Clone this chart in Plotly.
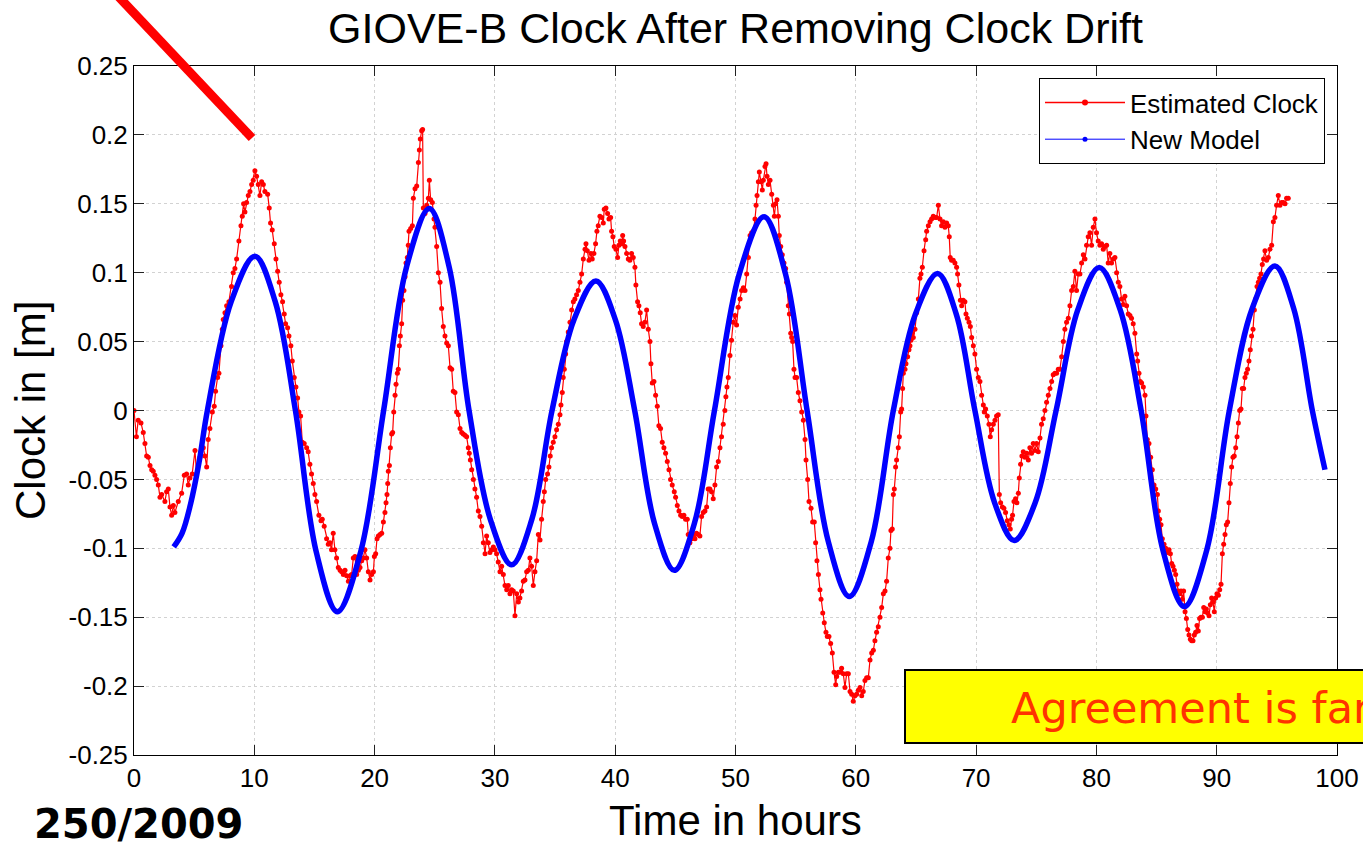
import plotly.graph_objects as go

# ---------------- data ----------------
title_text = "GIOVE-B Clock After Removing Clock Drift"
x_title = "Time in hours"
y_title = "Clock in [m]"
legend_names = ["Estimated Clock", "New Model"]

x_tickvals = [0, 10, 20, 30, 40, 50, 60, 70, 80, 90, 100]
x_ticktext = ["0", "10", "20", "30", "40", "50", "60", "70", "80", "90", "100"]
y_tickvals = [0.25, 0.2, 0.15, 0.1, 0.05, 0, -0.05, -0.1, -0.15, -0.2, -0.25]
y_ticktext = ["0.25", "0.2", "0.15", "0.1", "0.05", "0", "-0.05", "-0.1", "-0.15", "-0.2", "-0.25"]

# Estimated clock (hours, metres)
red_seg1 = [(0.00,0.000),(0.20,-0.019),(0.35,-0.007),(0.58,-0.009),(0.77,-0.016),(0.91,-0.024),(1.05,-0.033),(1.19,-0.034),(1.33,-0.040),(1.47,-0.043),(1.60,-0.044),(1.74,-0.047),(1.88,-0.050),(2.02,-0.054),(2.16,-0.063),(2.30,-0.061),(2.57,-0.066),(2.71,-0.059),(2.85,-0.057),(2.99,-0.070),(3.13,-0.076),(3.27,-0.069),(3.40,-0.074),(3.68,-0.066),(3.96,-0.060),(4.18,-0.047),(4.37,-0.046),(4.51,-0.054),(4.65,-0.049),(4.84,-0.046),(5.07,-0.029),(5.20,-0.046),(5.48,-0.034),(5.76,-0.027),(5.90,-0.033),(6.04,-0.041),(6.17,-0.021),(6.31,-0.013),(6.51,-0.001),(6.67,0.003),(6.78,0.014),(6.95,0.024),(7.06,0.027),(7.23,0.047),(7.34,0.059),(7.42,0.066),(7.56,0.071),(7.70,0.076),(7.89,0.079),(8.11,0.090),(8.25,0.100),(8.39,0.103),(8.53,0.110),(8.72,0.123),(8.89,0.134),(9.00,0.141),(9.11,0.150),(9.22,0.144),(9.36,0.151),(9.50,0.156),(9.64,0.159),(9.78,0.164),(9.91,0.167),(10.05,0.174),(10.19,0.170),(10.33,0.164),(10.47,0.156),(10.61,0.166),(10.75,0.164),(10.88,0.159),(11.11,0.157),(11.24,0.147),(11.35,0.136),(11.49,0.131),(11.66,0.121),(11.80,0.110),(11.94,0.101),(12.07,0.093),(12.21,0.084),(12.35,0.079),(12.49,0.070),(12.60,0.063),(12.77,0.060),(12.88,0.054),(13.04,0.047),(13.16,0.036),(13.32,0.024),(13.46,0.017),(13.60,0.009),(13.71,-0.001),(13.85,-0.004),(13.99,-0.023),(14.15,-0.024),(14.35,-0.027),(14.48,-0.030),(14.62,-0.039),(14.76,-0.046),(14.90,-0.053),(15.04,-0.061),(15.18,-0.066),(15.37,-0.076),(15.54,-0.080),(15.65,-0.079),(15.81,-0.084),(16.01,-0.093),(16.15,-0.097),(16.29,-0.096),(16.42,-0.101),(16.56,-0.089),(16.70,-0.101),(16.84,-0.107),(16.98,-0.114)]
red_seg2 = [(17.13,-0.116),(17.26,-0.117),(17.40,-0.119),(17.54,-0.116),(17.68,-0.120),(17.82,-0.124),(17.96,-0.120),(18.09,-0.119),(18.23,-0.107),(18.37,-0.106),(18.51,-0.119),(18.65,-0.116),(18.79,-0.114),(18.93,-0.109),(19.06,-0.107),(19.20,-0.101),(19.34,-0.107),(19.48,-0.117),(19.62,-0.123),(19.76,-0.119),(19.90,-0.117),(19.98,-0.106),(20.09,-0.104),(20.20,-0.093),(20.31,-0.091),(20.45,-0.090),(20.59,-0.089),(20.73,-0.081),(20.86,-0.074),(20.95,-0.067),(21.03,-0.061),(21.09,-0.053),(21.14,-0.044),(21.23,-0.040),(21.31,-0.027),(21.42,-0.017),(21.50,-0.016),(21.59,-0.001),(21.70,0.011),(21.78,0.019),(21.89,0.027),(21.97,0.030),(22.06,0.047),(22.14,0.054),(22.25,0.063),(22.33,0.080),(22.44,0.087),(22.53,0.097),(22.61,0.107),(22.72,0.111),(22.80,0.120),(22.86,0.130),(23.00,0.132),(23.14,0.134),(23.22,0.154),(23.36,0.161),(23.50,0.163),(23.64,0.180),(23.72,0.189),(23.80,0.197),(23.91,0.203),(23.99,0.204),(24.05,0.147),(24.19,0.143),(24.33,0.149),(24.47,0.154),(24.55,0.167),(24.66,0.153),(24.80,0.151),(24.94,0.139),(25.02,0.133),(25.16,0.119),(25.30,0.100),(25.44,0.093),(25.57,0.074),(25.71,0.061),(25.85,0.054),(25.99,0.049),(26.13,0.047),(26.27,0.031),(26.41,0.030),(26.54,0.014),(26.68,0.013),(26.82,-0.001),(26.96,-0.003),(27.10,-0.013),(27.24,-0.016),(27.37,-0.017),(27.51,-0.018),(27.65,-0.019),(27.79,-0.027),(27.87,-0.031),(27.96,-0.036),(28.07,-0.043),(28.21,-0.050),(28.34,-0.057),(28.48,-0.063),(28.62,-0.073),(28.76,-0.077),(28.90,-0.084),(29.04,-0.096),(29.18,-0.104),(29.31,-0.091),(29.45,-0.096),(29.59,-0.103),(29.73,-0.101),(29.87,-0.099),(30.01,-0.101),(30.14,-0.104),(30.28,-0.110),(30.42,-0.117),(30.56,-0.113),(30.70,-0.119),(30.84,-0.127),(30.98,-0.130),(31.11,-0.127),(31.25,-0.133),(31.39,-0.130),(31.53,-0.131),(31.67,-0.149),(31.81,-0.133),(31.95,-0.139),(32.08,-0.136),(32.22,-0.131),(32.36,-0.124),(32.50,-0.123),(32.64,-0.117),(32.78,-0.116),(32.91,-0.107),(33.05,-0.113),(33.19,-0.127),(33.33,-0.117),(33.47,-0.109),(33.61,-0.090)]
red_seg3 = [(33.75,-0.094),(33.88,-0.079),(34.02,-0.066),(34.11,-0.059),(34.22,-0.050),(34.38,-0.046),(34.49,-0.041),(34.60,-0.033),(34.71,-0.027),(34.85,-0.023),(34.99,-0.019),(35.13,-0.014),(35.27,-0.010),(35.41,-0.003),(35.49,0.004),(35.60,0.013),(35.68,0.024),(35.77,0.030),(35.88,0.041),(35.96,0.050),(36.10,0.057),(36.24,0.064),(36.38,0.073),(36.52,0.079),(36.65,0.081),(36.79,0.084),(36.93,0.087),(37.07,0.093),(37.21,0.099),(37.35,0.110),(37.49,0.117),(37.57,0.121),(37.68,0.116),(37.82,0.109),(37.98,0.114),(38.09,0.110),(38.23,0.114),(38.37,0.121),(38.48,0.130),(38.59,0.134),(38.73,0.141),(38.87,0.140),(39.01,0.136),(39.09,0.146),(39.23,0.147),(39.37,0.143),(39.48,0.139),(39.62,0.140),(39.70,0.130),(39.81,0.126),(39.92,0.119),(40.06,0.117),(40.20,0.111),(40.31,0.120),(40.42,0.123),(40.53,0.121),(40.62,0.127),(40.70,0.123),(40.81,0.119),(40.95,0.114),(41.09,0.110),(41.22,0.109),(41.36,0.114),(41.50,0.111),(41.64,0.104),(41.72,0.091),(41.86,0.079),(41.97,0.076),(42.08,0.071),(42.19,0.063),(42.33,0.061),(42.47,0.064),(42.61,0.073),(42.75,0.059),(42.89,0.050),(42.97,0.034),(43.08,0.020),(43.22,0.021),(43.36,0.011),(43.50,0.003),(43.63,-0.011),(43.77,-0.013),(43.91,-0.023),(44.05,-0.027),(44.19,-0.031),(44.33,-0.037),(44.47,-0.043),(44.60,-0.050),(44.74,-0.054),(44.91,-0.059),(45.02,-0.063),(45.16,-0.069),(45.30,-0.073),(45.44,-0.076),(45.57,-0.077),(45.71,-0.076),(45.85,-0.079),(45.99,-0.079),(46.07,-0.090),(46.21,-0.096),(46.35,-0.093),(46.49,-0.090),(46.63,-0.093),(46.76,-0.089),(46.90,-0.090),(47.04,-0.091),(47.18,-0.077),(47.32,-0.074),(47.46,-0.073),(47.60,-0.070),(47.73,-0.057),(47.87,-0.057),(48.01,-0.059),(48.15,-0.064),(48.29,-0.054),(48.43,-0.041),(48.57,-0.037),(48.71,-0.027),(48.84,-0.019),(48.98,-0.010),(49.12,0.000),(49.20,0.010),(49.29,0.017),(49.40,0.024),(49.54,0.040),(49.67,0.051),(49.81,0.064),(49.95,0.069),(50.09,0.062),(50.23,0.075)]
red_seg4 = [(50.38,0.081),(50.51,0.087),(50.65,0.089),(50.79,0.087),(50.93,0.099),(51.07,0.111),(51.21,0.127),(51.34,0.129),(51.48,0.130),(51.62,0.139),(51.71,0.149),(51.79,0.156),(51.90,0.166),(51.98,0.173),(52.12,0.166),(52.23,0.160),(52.31,0.167),(52.45,0.177),(52.54,0.179),(52.62,0.170),(52.73,0.164),(52.87,0.167),(53.01,0.157),(53.15,0.149),(53.23,0.141),(53.34,0.150),(53.45,0.153),(53.56,0.141),(53.64,0.127),(53.76,0.119),(53.89,0.113),(54.03,0.107),(54.17,0.103),(54.25,0.093),(54.39,0.076),(54.48,0.070),(54.59,0.056),(54.67,0.053),(54.75,0.050),(54.86,0.030),(54.95,0.024),(55.08,0.024),(55.22,0.013),(55.36,0.007),(55.50,-0.001),(55.64,-0.007),(55.78,-0.021),(55.86,-0.036),(56.00,-0.050),(56.11,-0.066),(56.28,-0.071),(56.41,-0.081),(56.55,-0.081),(56.66,-0.096),(56.77,-0.109),(56.89,-0.119),(57.02,-0.130),(57.11,-0.137),(57.25,-0.147),(57.38,-0.154),(57.52,-0.161),(57.63,-0.164),(57.77,-0.164),(57.91,-0.169),(58.05,-0.176),(58.19,-0.190),(58.33,-0.199),(58.41,-0.193),(58.55,-0.190),(58.69,-0.190),(58.82,-0.187),(58.96,-0.191),(59.10,-0.201),(59.24,-0.191),(59.38,-0.191),(59.52,-0.204),(59.66,-0.206),(59.79,-0.211),(59.93,-0.207),(60.07,-0.206),(60.21,-0.203),(60.35,-0.201),(60.49,-0.207),(60.62,-0.204),(60.76,-0.196),(60.90,-0.194),(61.04,-0.194),(61.18,-0.181),(61.32,-0.176),(61.46,-0.174),(61.59,-0.167),(61.73,-0.161),(61.87,-0.157),(62.01,-0.150),(62.15,-0.143),(62.29,-0.133),(62.43,-0.131),(62.56,-0.124),(62.70,-0.107),(62.84,-0.100),(62.92,-0.087),(63.03,-0.086),(63.12,-0.061),(63.20,-0.057),(63.31,-0.041),(63.39,-0.036),(63.53,-0.027),(63.62,-0.019),(63.73,-0.001),(63.81,0.001),(63.89,0.016),(63.95,0.027),(64.09,0.030),(64.17,0.034),(64.31,0.039),(64.42,0.044),(64.50,0.047),(64.59,0.051),(64.70,0.056),(64.78,0.053),(64.92,0.059),(65.06,0.071),(65.20,0.081),(65.33,0.096),(65.42,0.099),(65.53,0.104),(65.67,0.116),(65.81,0.124),(65.89,0.130),(66.03,0.134),(66.17,0.137),(66.30,0.139),(66.44,0.141),(66.58,0.140),(66.72,0.140),(66.86,0.149)]
red_seg5 = [(67.00,0.139),(67.13,0.134),(67.27,0.137),(67.41,0.133),(67.55,0.136),(67.69,0.134),(67.77,0.126),(67.85,0.111),(67.96,0.109),(68.10,0.109),(68.24,0.107),(68.38,0.104),(68.46,0.099),(68.57,0.091),(68.69,0.080),(68.80,0.076),(68.93,0.080),(69.07,0.079),(69.16,0.070),(69.27,0.067),(69.41,0.064),(69.52,0.061),(69.63,0.053),(69.77,0.047),(69.90,0.041),(70.04,0.030),(70.18,0.024),(70.32,0.021),(70.46,0.011),(70.60,0.004),(70.68,-0.001),(70.79,0.001),(70.93,-0.004),(71.07,-0.010),(71.18,-0.019),(71.29,-0.014),(71.43,-0.010),(71.57,-0.007),(71.70,-0.004),(71.84,-0.003),(71.93,-0.061),(72.04,-0.067),(72.18,-0.070),(72.31,-0.071),(72.45,-0.074),(72.59,-0.080),(72.73,-0.083),(72.84,-0.086),(72.95,-0.079),(73.03,-0.076),(73.15,-0.066),(73.28,-0.064),(73.39,-0.067),(73.51,-0.060),(73.59,-0.049),(73.70,-0.039),(73.81,-0.033),(73.92,-0.030),(74.06,-0.034),(74.20,-0.031),(74.34,-0.036),(74.47,-0.027),(74.61,-0.031),(74.75,-0.024),(74.89,-0.029),(75.03,-0.024),(75.17,-0.030),(75.31,-0.020),(75.44,-0.010),(75.58,-0.006),(75.72,0.000),(75.86,0.006),(76.00,0.011),(76.14,0.016),(76.28,0.021),(76.41,0.026),(76.55,0.027),(76.69,0.027),(76.83,0.030),(76.97,0.030),(77.11,0.039),(77.25,0.050),(77.38,0.059),(77.52,0.064),(77.66,0.067),(77.80,0.076),(77.94,0.087),(78.08,0.090),(78.21,0.101),(78.35,0.087),(78.49,0.099),(78.63,0.099),(78.77,0.107),(78.91,0.113),(79.05,0.110),(79.18,0.120),(79.32,0.126),(79.46,0.129),(79.60,0.120),(79.74,0.133),(79.88,0.139),(80.01,0.129),(80.15,0.123),(80.29,0.120),(80.43,0.121),(80.57,0.117),(80.71,0.119),(80.85,0.120),(80.98,0.107),(81.12,0.114),(81.26,0.107),(81.40,0.110),(81.54,0.111),(81.68,0.100),(81.82,0.093),(81.95,0.090),(82.09,0.081),(82.23,0.077),(82.37,0.083),(82.51,0.076),(82.65,0.070),(82.79,0.069),(82.92,0.067),(83.06,0.063),(83.20,0.056)]
red_seg6 = [(83.35,0.041),(83.43,0.036),(83.54,0.027),(83.65,0.021),(83.76,0.020),(83.90,0.017),(84.04,0.011),(84.12,-0.004),(84.23,-0.021),(84.37,-0.024),(84.51,-0.034),(84.65,-0.043),(84.79,-0.054),(84.93,-0.057),(85.07,-0.061),(85.15,-0.073),(85.26,-0.079),(85.37,-0.083),(85.48,-0.093),(85.62,-0.097),(85.76,-0.100),(85.90,-0.103),(86.04,-0.101),(86.15,-0.104),(86.26,-0.111),(86.37,-0.113),(86.48,-0.116),(86.59,-0.119),(86.70,-0.126),(86.81,-0.131),(86.92,-0.133),(87.03,-0.131),(87.14,-0.137),(87.25,-0.131),(87.37,-0.146),(87.48,-0.151),(87.59,-0.159),(87.70,-0.163),(87.81,-0.166),(87.92,-0.167),(88.03,-0.167),(88.14,-0.163),(88.25,-0.161),(88.36,-0.156),(88.47,-0.160),(88.58,-0.151),(88.69,-0.150),(88.81,-0.150),(88.92,-0.143),(89.03,-0.146),(89.14,-0.144),(89.25,-0.147),(89.36,-0.149),(89.47,-0.141),(89.58,-0.136),(89.69,-0.139),(89.80,-0.146),(89.91,-0.136),(90.02,-0.133),(90.14,-0.134),(90.25,-0.130),(90.36,-0.126),(90.47,-0.104),(90.58,-0.097),(90.69,-0.090),(90.80,-0.083),(90.91,-0.081),(91.02,-0.067),(91.13,-0.053),(91.24,-0.041),(91.35,-0.034),(91.46,-0.033),(91.58,-0.027),(91.69,-0.019),(91.80,-0.009),(91.91,0.000),(92.02,0.001),(92.13,0.016),(92.24,0.016),(92.35,0.024),(92.46,0.027),(92.57,0.030),(92.68,0.036),(92.79,0.044),(92.90,0.054),(93.02,0.059),(93.13,0.073),(93.24,0.081),(93.35,0.090),(93.46,0.093),(93.57,0.096),(93.68,0.099),(93.79,0.106),(93.90,0.110),(94.01,0.116),(94.15,0.109),(94.29,0.111),(94.43,0.117),(94.57,0.120),(94.71,0.137),(94.84,0.140),(94.98,0.149),(95.12,0.156),(95.26,0.149),(95.40,0.151),(95.54,0.151),(95.68,0.150),(95.81,0.154),(95.95,0.154)]

# New model (hours, metres)
blue_model = [(3.30,-0.099),(4.00,-0.089),(4.70,-0.068),(5.40,-0.038),(6.10,0.000),(8.08,0.079),(10.05,0.112),(11.74,0.079),(13.42,0.000),(15.16,-0.103),(16.90,-0.146),(18.83,-0.103),(20.75,0.000),(22.65,0.104),(24.55,0.1466),(26.20,0.104),(27.85,0.000),(29.62,-0.079),(31.39,-0.112),(33.07,-0.079),(34.75,0.000),(36.58,0.066),(38.40,0.094),(40.01,0.066),(41.62,0.000),(43.27,-0.082),(44.91,-0.116),(46.58,-0.082),(48.25,0.000),(50.31,0.099),(52.37,0.1406),(54.16,0.099),(55.95,0.000),(57.71,-0.095),(59.46,-0.135),(61.29,-0.095),(63.12,0.000),(64.96,0.070),(66.80,0.0994),(68.35,0.070),(69.90,0.000),(71.54,-0.067),(73.17,-0.0943),(74.91,-0.067),(76.65,0.000),(78.45,0.073),(80.24,0.1037),(81.98,0.073),(83.72,0.000),(85.52,-0.101),(87.31,-0.1423),(89.18,-0.101),(91.05,0.000),(92.95,0.074),(94.84,0.1049),(96.40,0.074),(97.95,0.000),(99.00,-0.043)]

annotation_box_text = "Agreement is far"
footer_text = "250/2009"

# ---------------- build ----------------
red_pairs = red_seg1 + red_seg2 + red_seg3 + red_seg4 + red_seg5 + red_seg6
red_t = [p[0] for p in red_pairs]
red_v = [p[1] for p in red_pairs]
blue_t = [p[0] for p in blue_model]
blue_v = [p[1] for p in blue_model]

FONT = "Liberation Sans, Arial, sans-serif"
VFONT = "DejaVu Sans, Verdana, sans-serif"

fig = go.Figure()
fig.add_trace(go.Scatter(
    x=red_t, y=red_v, mode="lines+markers", showlegend=False,
    line=dict(color="#ff0000", width=1.2),
    marker=dict(color="#ff0000", size=5),
))
fig.add_trace(go.Scatter(
    x=blue_t, y=blue_v, mode="lines", showlegend=False,
    line=dict(color="#0000ff", width=5.5, shape="spline", smoothing=1.0),
))
# legend-only entries (thin lines with dot markers as in the original legend)
fig.add_trace(go.Scatter(
    x=[None], y=[None], mode="lines+markers", name=legend_names[0],
    line=dict(color="#ff0000", width=1.5), marker=dict(color="#ff0000", size=6),
))
fig.add_trace(go.Scatter(
    x=[None], y=[None], mode="lines+markers", name=legend_names[1],
    line=dict(color="#0000ff", width=1), marker=dict(color="#0000ff", size=5),
))

W, H = 1363, 843
L, R, T, B = 134, 26, 66, 88
PW, PH = W - L - R, H - T - B


def px(xp):
    return (xp - L) / PW


def py(yp):
    return (H - B - yp) / PH


axis_common = dict(
    showline=True, linecolor="#000000", linewidth=1, mirror="ticks",
    ticks="inside", ticklen=10, tickcolor="#222222", tickwidth=1,
    showgrid=True, gridcolor="#d2d2d2", griddash="dot", gridwidth=1,
    zeroline=False, automargin=False,
    tickfont=dict(family=FONT, size=26, color="#000000"),
)

fig.update_layout(
    width=W, height=H,
    margin=dict(l=L, r=R, t=T, b=B, pad=0, autoexpand=False),
    paper_bgcolor="white", plot_bgcolor="white",
    font=dict(family=FONT, color="#000000"),
    title=dict(text=title_text, x=0.5, xref="paper", xanchor="center",
               y=1 - 28 / H, yref="container", yanchor="middle",
               font=dict(family=FONT, size=43, color="#000000")),
    xaxis=dict(range=[0, 100], tickvals=x_tickvals, ticktext=x_ticktext, **axis_common),
    yaxis=dict(range=[-0.25, 0.25], tickvals=y_tickvals, ticktext=y_ticktext, **axis_common),
    legend=dict(x=px(1325), y=py(78), xanchor="right", yanchor="top",
                bgcolor="white", bordercolor="#000000", borderwidth=1,
                font=dict(family=FONT, size=26, color="#000000"),
                tracegroupgap=0, itemwidth=80),
    showlegend=True,
)

fig.add_annotation(text=x_title, xref="paper", yref="paper", x=0.5, y=py(820),
                   xanchor="center", yanchor="middle", showarrow=False,
                   font=dict(family=FONT, size=42, color="#000000"))
fig.add_annotation(text=y_title, xref="paper", yref="paper", x=px(30), y=py(411),
                   xanchor="center", yanchor="middle", textangle=-90, showarrow=False,
                   font=dict(family=FONT, size=42, color="#000000"))
fig.add_annotation(text="<b>" + footer_text + "</b>", xref="paper", yref="paper",
                   x=px(32), y=py(824), xanchor="left", yanchor="middle", showarrow=False,
                   font=dict(family=VFONT, size=40, color="#000000"))

# yellow call-out box (runs off the right edge as in the original)
fig.add_shape(type="rect", xref="paper", yref="paper",
              x0=px(905), x1=px(1420), y0=py(743), y1=py(670),
              fillcolor="#ffff00", line=dict(color="#000000", width=2), layer="above")
fig.add_annotation(text=annotation_box_text, xref="paper", yref="paper",
                   x=px(1009), y=py(708), xanchor="left", yanchor="middle", showarrow=False,
                   font=dict(family=VFONT, size=43, color="#ff3300"))

# red pointer line from the top-left
fig.add_shape(type="line", xref="paper", yref="paper",
              x0=px(116), y0=py(-6), x1=px(252), y1=py(138),
              line=dict(color="#ff0000", width=9), layer="above")

fig.write_html("out.html")
